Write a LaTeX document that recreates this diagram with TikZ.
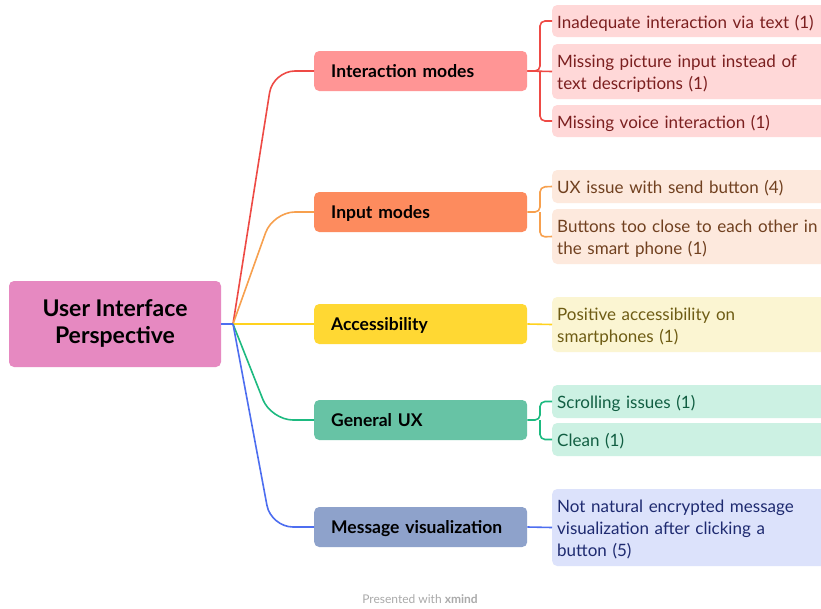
\documentclass[tikz,border=0pt]{standalone}
\usepackage{fontspec}
\setmainfont{Lato}
\definecolor{rootfill}{HTML}{E689C1}
\definecolor{imfill}{HTML}{FF9595}
\definecolor{imline}{HTML}{EE4A45}
\definecolor{imleaf}{HTML}{FFD8D8}
\definecolor{imtext}{HTML}{7B1F1F}
\definecolor{infill}{HTML}{FD8B5E}
\definecolor{inline}{HTML}{F7A04E}
\definecolor{inleaf}{HTML}{FDE9DD}
\definecolor{intext}{HTML}{70401F}
\definecolor{acfill}{HTML}{FFD833}
\definecolor{acline}{HTML}{FFD21E}
\definecolor{acleaf}{HTML}{FBF5D2}
\definecolor{actext}{HTML}{6E5C14}
\definecolor{gufill}{HTML}{67C3A5}
\definecolor{guline}{HTML}{1DBA80}
\definecolor{guleaf}{HTML}{CCF1E3}
\definecolor{gutext}{HTML}{115E42}
\definecolor{mvfill}{HTML}{8EA2CB}
\definecolor{mvline}{HTML}{4D6EF0}
\definecolor{mvleaf}{HTML}{DCE2FB}
\definecolor{mvtext}{HTML}{1E2A70}
\definecolor{credit}{HTML}{AAAAAA}
\begin{document}
\begin{tikzpicture}[x=1pt,y=-1pt,
  % fixed first-line height and last-line depth keep the baselines steady
  struts/.style 2 args={execute at begin node={\rule{0pt}{#1}},
    execute at end node={\rule[-#2]{0pt}{0pt}}},
  rootbox/.style={rectangle, rounded corners=5pt, fill=rootfill, minimum width=212pt,
    minimum height=86pt, inner sep=0pt, align=center, text=black,
    font=\fontsize{23}{27}\selectfont\bfseries, struts={18.75pt}{5.75pt}},
  branchbox/.style={rectangle, rounded corners=5pt, anchor=west, minimum height=40pt,
    inner xsep=17pt, inner ysep=0pt, text width=179pt, align=left, text=black,
    font=\fontsize{17.5}{22}\selectfont\bfseries, struts={17pt}{4.4pt}},
  leafbox/.style={rectangle, rounded corners=5pt, anchor=west, inner xsep=5pt,
    inner ysep=0pt, text width=283pt, align=left,
    font=\fontsize{17}{22}\selectfont, struts={18.85pt}{4.25pt}},
  conn/.style={line width=1.6pt},
  bracket/.style={line width=1.6pt, rounded corners=5pt},
  hubline/.style={line width=1.6pt, rounded corners=22pt}
]
\useasboundingbox (0,0) rectangle (821,608);
\fill[white] (0,0) rectangle (821,608);
\clip (0,0) rectangle (821,608);

% central topic and hub
\node[rootbox] (root) at (115,324) {User Interface\\Perspective};
\coordinate (hub) at (233,324);

% main branches
\node[branchbox, fill=imfill] (im) at (314,71)  {Interaction modes};
\node[branchbox, fill=infill] (in) at (314,212) {Input modes};
\node[branchbox, fill=acfill] (ac) at (314,324) {Accessibility};
\node[branchbox, fill=gufill] (gu) at (314,420) {General UX};
\node[branchbox, fill=mvfill] (mv) at (314,527) {Message visualization};

% leaves
\node[leafbox, fill=imleaf, text=imtext, minimum height=32pt] (im1) at (552,21)
  {Inadequate interaction via text (1)};
\node[leafbox, fill=imleaf, text=imtext, minimum height=55pt] (im2) at (552,71.5)
  {Missing picture input instead of\\text descriptions (1)};
\node[leafbox, fill=imleaf, text=imtext, minimum height=32pt] (im3) at (552,121)
  {Missing voice interaction (1)};
\node[leafbox, fill=inleaf, text=intext, minimum height=33pt] (in1) at (552,186.5)
  {UX issue with send button (4)};
\node[leafbox, fill=inleaf, text=intext, minimum height=55pt] (in2) at (552,236.5)
  {Buttons too close to each other in\\the smart phone (1)};
\node[leafbox, fill=acleaf, text=actext, minimum height=55pt] (ac1) at (552,324.5)
  {Positive accessibility on\\smartphones (1)};
\node[leafbox, fill=guleaf, text=gutext, minimum height=33pt] (gu1) at (552,401.5)
  {Scrolling issues (1)};
\node[leafbox, fill=guleaf, text=gutext, minimum height=33pt] (gu2) at (552,439.5)
  {Clean (1)};
\node[leafbox, fill=mvleaf, text=mvtext, minimum height=77pt] (mv1) at (552,527.5)
  {Not natural encrypted message\\visualization after clicking a\\button (5)};

% hub to branches
\draw[hubline, imline] (hub) -- (273,71) -- (im.west);
\draw[hubline, inline] (hub) -- (273,212) -- (in.west);
\draw[conn, acline] (hub) -- (ac.west);
\draw[hubline, guline] (hub) -- (271,420) -- (gu.west);
\draw[hubline, mvline] (hub) -- (271,527) -- (mv.west);
\draw[conn, mvline] (root.east) -- (hub);

% branches to leaves
\draw[bracket, imline] (im.east) -- (540,71) -- (540,21) -- (im1.west);
\draw[conn, imline] (im.east) -- (im2.west);
\draw[bracket, imline] (540,71) -- (540,121) -- (im3.west);
\draw[bracket, inline] (in.east) -- (540,212) -- (540,187) -- (in1.west);
\draw[bracket, inline] (540,212) -- (540,237) -- (in2.west);
\draw[conn, acline] (ac.east) -- (ac1.west);
\draw[bracket, guline] (gu.east) -- (540,420) -- (540,401.5) -- (gu1.west);
\draw[bracket, guline] (540,420) -- (540,439.5) -- (gu2.west);
\draw[conn, mvline] (mv.east) -- (mv1.west);

% footer
\node[text=credit, font=\fontsize{12}{14}\selectfont] (credit) at (420,599)
  {Presented with \textbf{xmind}};
\end{tikzpicture}
\end{document}
